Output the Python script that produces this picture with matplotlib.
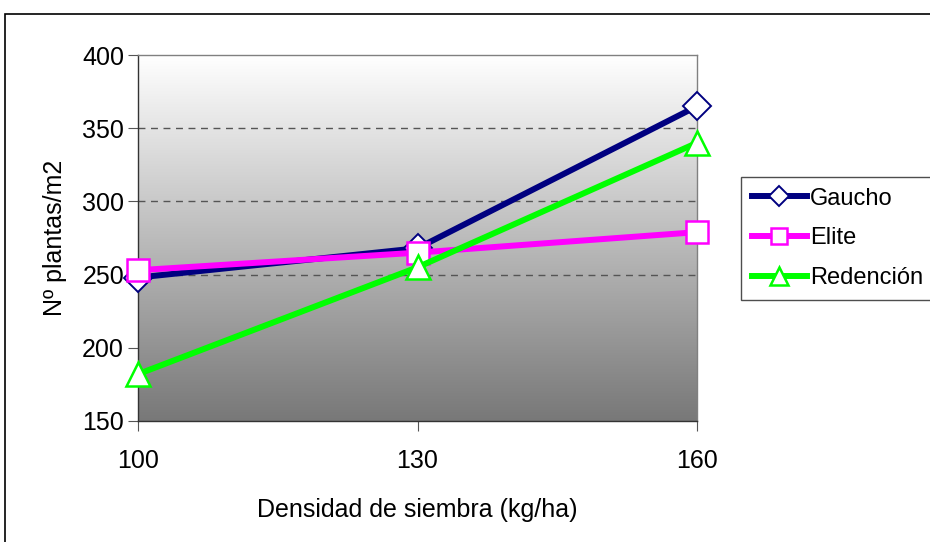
import matplotlib
matplotlib.use("Agg")
import matplotlib.pyplot as plt
import numpy as np
from matplotlib.patches import Rectangle

densidad = [100, 130, 160]
gaucho = [248, 268, 365]
elite = [253, 265, 279]
redencion = [182, 255, 340]
series_names = ["Gaucho", "Elite", "Redención"]
yticks = [150, 200, 250, 300, 350, 400]

plt.rcParams['font.family'] = ['Liberation Sans', 'DejaVu Sans']

W, H = 930, 542
fig = plt.figure(figsize=(W/100, H/100), dpi=100)
fig.patch.set_facecolor('white')

# outer chart border
fig.patches.append(Rectangle((5/W, -0.5), 2.0, (H-14)/H + 0.5, transform=fig.transFigure,
                             fill=False, edgecolor='black', linewidth=1.2))

L, R, T, B = 138, 697, 55, 421
ax = fig.add_axes([L/W, 1-B/H, (R-L)/W, (B-T)/H])

# gradient background
grad = np.linspace(0, 1, 256).reshape(-1, 1)
ax.imshow(grad, cmap=matplotlib.colors.LinearSegmentedColormap.from_list('g', ['#ffffff', '#787878']),
          extent=[0, 1, 0, 1], transform=ax.transAxes, aspect='auto', zorder=0, origin='upper')

ax.set_xlim(100, 160)
ax.set_ylim(150, 400)
ax.set_xticks(densidad)
ax.set_yticks(yticks)
for yv in [250, 300, 350]:
    ax.axhline(yv, color='#555555', linestyle=(0, (5, 4)), linewidth=1.0, zorder=1)

lw = 4.3
ax.plot(densidad, gaucho, color='#000080', linewidth=lw, marker='D', markersize=14.5,
        markerfacecolor='white', markeredgecolor='#000080', markeredgewidth=1.4, label=series_names[0], zorder=3, clip_on=False)
ax.plot(densidad, elite, color='#ff00ff', linewidth=lw, marker='s', markersize=16.5,
        markerfacecolor='white', markeredgecolor='#ff00ff', markeredgewidth=1.8, label=series_names[1], zorder=4, clip_on=False)
ax.plot(densidad, redencion, color='#00ff00', linewidth=lw, marker='^', markersize=17.5,
        markerfacecolor='white', markeredgecolor='#00ff00', markeredgewidth=1.8, label=series_names[2], zorder=5, clip_on=False)

for s in ['top', 'right']:
    ax.spines[s].set_color('#808080')
    ax.spines[s].set_linewidth(1.0)
for s in ['left', 'bottom']:
    ax.spines[s].set_color('#333333')
    ax.spines[s].set_linewidth(1.0)

fs = 18
ax.tick_params(axis='y', direction='out', length=7, color='#555555', labelsize=fs, pad=3)
ax.tick_params(axis='x', direction='out', length=7, color='#555555', labelsize=fs, pad=13)

ax.set_xlabel("Densidad de siembra (kg/ha)", fontsize=fs, labelpad=18)
ax.set_ylabel("Nº plantas/m2", fontsize=fs, labelpad=11)

leg = fig.legend(loc='upper left', bbox_to_anchor=(741/W, 1-177/H), fontsize=17,
                 frameon=True, fancybox=False, edgecolor='#222222', handlelength=2.35,
                 handletextpad=0.12, borderpad=0.45, labelspacing=0.75, markerscale=0.72,
                 borderaxespad=0)
leg.get_frame().set_linewidth(1.0)

fig.savefig("out.png", dpi=100)
